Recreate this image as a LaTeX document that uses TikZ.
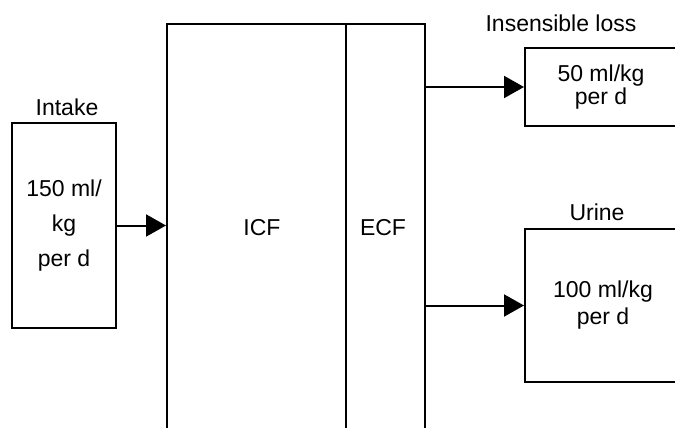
\documentclass[tikz,border=0pt]{standalone}
\usepackage{fontspec}
\setmainfont{Liberation Sans}
\usetikzlibrary{arrows.meta, positioning}

\begin{document}
\begin{tikzpicture}[x=1pt, y=-1pt,
  box/.style={draw, line width=2pt, inner sep=0pt, align=center},
  flow/.style={line width=2pt, -{Triangle[length=20pt,width=22pt]}},
  every node/.style={font=\fontsize{23}{27}\selectfont}]
  \useasboundingbox (0,0) rectangle (675,428);
  \clip (0,0) rectangle (675,428);
  % body compartments, open at the bottom
  \node[box, minimum width=258, minimum height=460, anchor=north west] (body) at (166,23) {};
  \draw[line width=2pt] (346,23) -- (346,483);
  \node (icf) at (262,228) {ICF};
  \node (ecf) at (383,228) {ECF};
  % in and out
  \node[box, minimum width=104, minimum height=205, font=\fontsize{23}{35}\selectfont] (intake) at (64,225.5) {150 ml/\\kg\\per d};
  \node[box, minimum width=152, minimum height=78, font=\fontsize{23}{21}\selectfont] (loss) at (601,87) {50 ml/kg\\per d};
  \node[box, minimum width=156, minimum height=153, font=\fontsize{23}{27}\selectfont] (urine) at (603,305.5) {100 ml/kg\\per d};
  \node (intaketitle) at (67,107) {Intake};
  \node (losstitle) at (561,23) {Insensible loss};
  \node (urinetitle) at (597,212) {Urine};
  \draw[flow] (intake.east) -- (intake.east -| body.west);
  \draw[flow] (body.east |- loss.west) -- (loss.west);
  \draw[flow] (body.east |- urine.west) -- (urine.west);
\end{tikzpicture}
\end{document}
